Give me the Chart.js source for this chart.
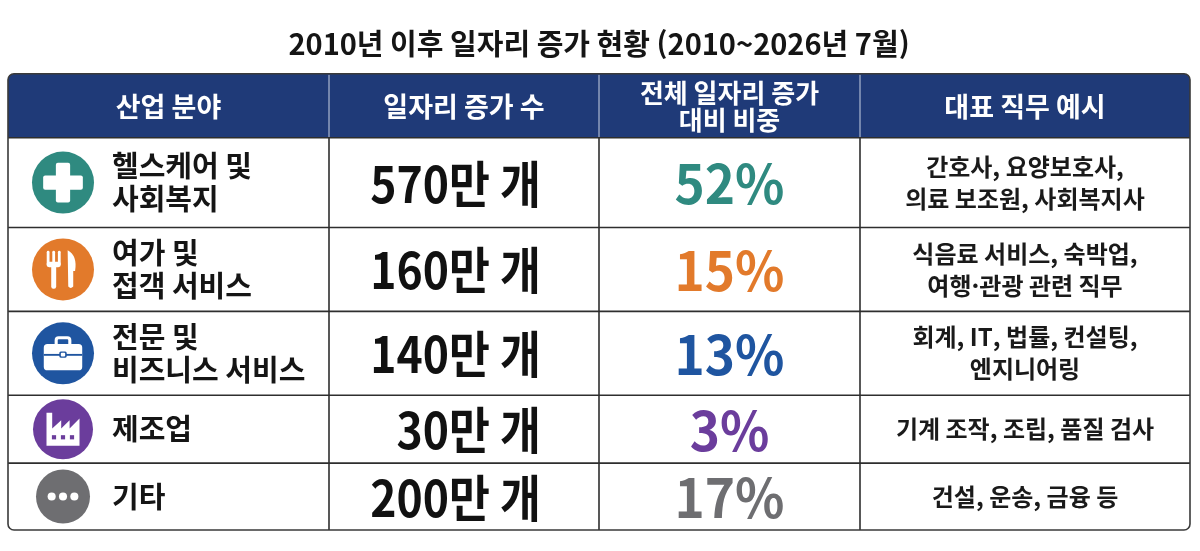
<!DOCTYPE html>
<html lang="ko">
<head>
<meta charset="utf-8">
<title>2010년 이후 일자리 증가 현황</title>
<script src="https://cdn.jsdelivr.net/npm/chart.js@4.4.1/dist/chart.umd.min.js"></script>
<style>
  html, body { margin: 0; padding: 0; background: #ffffff; }
  canvas { display: block; }
</style>
</head>
<body>
<canvas id="jobsTable" width="1200" height="551"></canvas>
<script>
// Table data
const headers = [['산업 분야'], ['일자리 증가 수'], ['전체 일자리 증가', '대비 비중'], ['대표 직무 예시']];
const industries = [['헬스케어 및', '사회복지'], ['여가 및', '접객 서비스'], ['전문 및', '비즈니스 서비스'], ['제조업'], ['기타']];
const jobGains = [570, 160, 140, 30, 200];   // 만 개
const shares = [52, 15, 13, 3, 17];          // %
const examples = [
  ['간호사, 요양보호사,', '의료 보조원, 사회복지사'],
  ['식음료 서비스, 숙박업,', '여행·관광 관련 직무'],
  ['회계, IT, 법률, 컨설팅,', '엔지니어링'],
  ['기계 조작, 조립, 품질 검사'],
  ['건설, 운송, 금융 등']
];

// Look of the table
const icons = ['cross', 'dining', 'briefcase', 'factory', 'dots'];
const rowColors = ['#2f8a80', '#e27a2b', '#1f55a0', '#6b3d9c', '#6e6e71'];
const iconSizes = [31, 31, 31, 30, 27];
const colWidths = [321, 270, 261, 330];
const rowHeights = [64, 90, 84, 84, 68, 67];
const NAVY = '#1f3a78';
const FONT = '"Noto Sans CJK KR", "Noto Sans", sans-serif';

function edges(sizes) {
  const out = [0];
  sizes.forEach(s => out.push(out[out.length - 1] + s));
  return out;
}
const colEdges = edges(colWidths);
const rowEdges = edges(rowHeights);

function text(ctx, str, x, y, font, color, align, sx) {
  ctx.save();
  ctx.font = font;
  ctx.fillStyle = color;
  ctx.textAlign = align || 'center';
  ctx.textBaseline = 'middle';
  ctx.translate(x, y);
  ctx.scale(sx || 1, 1);
  ctx.fillText(str, 0, 0);
  ctx.restore();
}

function lines(ctx, list, x, cy, gap, font, color, align) {
  const start = cy - (list.length - 1) * gap / 2;
  list.forEach((l, i) => text(ctx, l, x, start + i * gap, font, color, align));
}

function roundRect(ctx, x, y, w, h, r) {
  ctx.beginPath();
  ctx.moveTo(x + r, y);
  ctx.arcTo(x + w, y, x + w, y + h, r);
  ctx.arcTo(x + w, y + h, x, y + h, r);
  ctx.arcTo(x, y + h, x, y, r);
  ctx.arcTo(x, y, x + w, y, r);
  ctx.closePath();
}

function drawIcon(ctx, kind, cx, cy, r, color) {
  ctx.save();
  ctx.fillStyle = color;
  ctx.beginPath();
  ctx.arc(cx, cy, r, 0, Math.PI * 2);
  ctx.fill();
  ctx.fillStyle = '#ffffff';
  if (kind === 'cross') {
    const a = 0.64 * r, t = 0.23 * r;
    roundRect(ctx, cx - a, cy - t, 2 * a, 2 * t, 2); ctx.fill();
    roundRect(ctx, cx - t, cy - a, 2 * t, 2 * a, 2); ctx.fill();
  } else if (kind === 'dining') {
    // fork
    const fx = cx - 0.3 * r;
    const tw = 0.09 * r;
    [-0.18, 0, 0.18].forEach(o => {
      roundRect(ctx, fx + o * r - tw / 2, cy - 0.6 * r, tw, 0.45 * r, tw / 2); ctx.fill();
    });
    roundRect(ctx, fx - 0.23 * r, cy - 0.25 * r, 0.46 * r, 0.18 * r, 0.08 * r); ctx.fill();
    roundRect(ctx, fx - 0.08 * r, cy - 0.15 * r, 0.16 * r, 0.77 * r, 0.07 * r); ctx.fill();
    // knife
    const kx = cx + 0.25 * r;
    ctx.beginPath();
    ctx.moveTo(kx - 0.1 * r, cy - 0.62 * r);
    ctx.quadraticCurveTo(kx + 0.22 * r, cy - 0.45 * r, kx + 0.14 * r, cy + 0.05 * r);
    ctx.lineTo(kx + 0.08 * r, cy + 0.05 * r);
    ctx.lineTo(kx + 0.08 * r, cy + 0.55 * r);
    ctx.quadraticCurveTo(kx, cy + 0.64 * r, kx - 0.08 * r, cy + 0.55 * r);
    ctx.lineTo(kx - 0.1 * r, cy - 0.62 * r);
    ctx.closePath();
    ctx.fill();
  } else if (kind === 'briefcase') {
    ctx.strokeStyle = '#ffffff';
    ctx.lineWidth = 0.1 * r;
    roundRect(ctx, cx - 0.22 * r, cy - 0.5 * r, 0.44 * r, 0.3 * r, 0.08 * r);
    ctx.stroke();
    roundRect(ctx, cx - 0.62 * r, cy - 0.3 * r, 1.24 * r, 0.85 * r, 0.12 * r);
    ctx.fill();
    ctx.fillStyle = color;
    ctx.fillRect(cx - 0.62 * r, cy + 0.02 * r, 1.24 * r, 0.06 * r);
    roundRect(ctx, cx - 0.12 * r, cy - 0.06 * r, 0.24 * r, 0.2 * r, 0.05 * r);
    ctx.fill();
    ctx.fillStyle = '#ffffff';
    roundRect(ctx, cx - 0.07 * r, cy - 0.02 * r, 0.14 * r, 0.12 * r, 0.03 * r);
    ctx.fill();
  } else if (kind === 'factory') {
    ctx.beginPath();
    ctx.moveTo(cx - 0.55 * r, cy + 0.55 * r);
    ctx.lineTo(cx - 0.55 * r, cy - 0.55 * r);
    ctx.lineTo(cx - 0.36 * r, cy - 0.55 * r);
    ctx.lineTo(cx - 0.36 * r, cy - 0.02 * r);
    ctx.lineTo(cx - 0.06 * r, cy - 0.3 * r);
    ctx.lineTo(cx - 0.06 * r, cy - 0.02 * r);
    ctx.lineTo(cx + 0.22 * r, cy - 0.3 * r);
    ctx.lineTo(cx + 0.22 * r, cy - 0.02 * r);
    ctx.lineTo(cx + 0.55 * r, cy - 0.36 * r);
    ctx.lineTo(cx + 0.55 * r, cy + 0.55 * r);
    ctx.closePath();
    ctx.fill();
    ctx.fillStyle = color;
    [-0.3, 0, 0.3].forEach(o => {
      ctx.fillRect(cx + o * r - 0.07 * r, cy + 0.2 * r, 0.14 * r, 0.14 * r);
    });
  } else if (kind === 'dots') {
    [-0.42, 0, 0.42].forEach(o => {
      ctx.beginPath();
      ctx.arc(cx + o * r, cy, 0.15 * r, 0, Math.PI * 2);
      ctx.fill();
    });
  }
  ctx.restore();
}

const tablePlugin = {
  id: 'tablePlugin',
  beforeDraw(chart) {
    const ctx = chart.ctx;
    ctx.save();
    ctx.fillStyle = '#ffffff';
    ctx.fillRect(0, 0, chart.width, chart.height);
    ctx.restore();
  },
  afterDraw(chart) {
    const ctx = chart.ctx;
    const xs = chart.scales.x, ys = chart.scales.y;
    const X = colEdges.map(v => xs.getPixelForValue(v));
    const Y = rowEdges.map(v => ys.getPixelForValue(v));
    const left = X[0], right = X[X.length - 1], top = Y[0], bottom = Y[Y.length - 1];

    ctx.save();
    // header band
    ctx.fillStyle = NAVY;
    ctx.beginPath();
    ctx.moveTo(left, Y[1]);
    ctx.lineTo(left, top + 6);
    ctx.arcTo(left, top, left + 6, top, 6);
    ctx.lineTo(right - 6, top);
    ctx.arcTo(right, top, right, top + 6, 6);
    ctx.lineTo(right, Y[1]);
    ctx.closePath();
    ctx.fill();

    // header dividers
    ctx.strokeStyle = '#c9d1e2';
    ctx.lineWidth = 1;
    for (let c = 1; c < X.length - 1; c++) {
      ctx.beginPath();
      ctx.moveTo(X[c], top + 1);
      ctx.lineTo(X[c], Y[1]);
      ctx.stroke();
    }

    // body grid
    ctx.strokeStyle = '#2e2e2e';
    ctx.lineWidth = 1.6;
    for (let r = 1; r < Y.length - 1; r++) {
      ctx.beginPath();
      ctx.moveTo(left, Y[r]);
      ctx.lineTo(right, Y[r]);
      ctx.stroke();
    }
    for (let c = 1; c < X.length - 1; c++) {
      ctx.beginPath();
      ctx.moveTo(X[c], Y[1]);
      ctx.lineTo(X[c], bottom);
      ctx.stroke();
    }
    // outer border
    ctx.lineWidth = 1.6;
    ctx.strokeStyle = '#3a3a3a';
    roundRect(ctx, left, top, right - left, bottom - top, 6);
    ctx.stroke();
    ctx.restore();

    // header text
    const hcy = (Y[0] + Y[1]) / 2 + 1;
    headers.forEach((h, c) => {
      const cx = (X[c] + X[c + 1]) / 2;
      const size = h.length > 1 ? 26 : 27;
      lines(ctx, h, cx, hcy, 27, 'bold ' + size + 'px ' + FONT, '#ffffff', 'center');
    });

    // body rows
    industries.forEach((name, i) => {
      const cy = (Y[i + 1] + Y[i + 2]) / 2;
      drawIcon(ctx, icons[i], X[0] + 55, cy, iconSizes[i], rowColors[i]);
      lines(ctx, name, X[0] + 104, cy, 33, 'bold 29px ' + FONT, '#151515', 'left');
      text(ctx, jobGains[i] + '만 개', X[2] - 58, cy + 1, 'bold 50px ' + FONT, '#111111', 'right', 0.89);
      text(ctx, shares[i] + '%', (X[2] + X[3]) / 2, cy + 1, 'bold 54px ' + FONT, rowColors[i], 'center', 0.95);
      lines(ctx, examples[i], (X[3] + X[4]) / 2, cy, 32, 'bold 24px ' + FONT, '#1a1a1a', 'center');
    });
  }
};

new Chart(document.getElementById('jobsTable'), {
  type: 'scatter',
  data: { datasets: [] },
  options: {
    responsive: false,
    animation: false,
    layout: { padding: { left: 8, right: 10, top: 0, bottom: 21 } },
    scales: {
      x: { type: 'linear', display: false, min: 0, max: colEdges[colEdges.length - 1] },
      y: { type: 'linear', display: false, min: 0, max: rowEdges[rowEdges.length - 1], reverse: true }
    },
    plugins: {
      legend: { display: false },
      tooltip: { enabled: false },
      title: {
        display: true,
        text: '2010년 이후 일자리 증가 현황 (2010~2026년 7월)',
        color: '#151515',
        font: { family: FONT, size: 29, weight: 'bold' },
        padding: { top: 27, bottom: 12 }
      }
    }
  },
  plugins: [tablePlugin]
});
</script>
</body>
</html>
